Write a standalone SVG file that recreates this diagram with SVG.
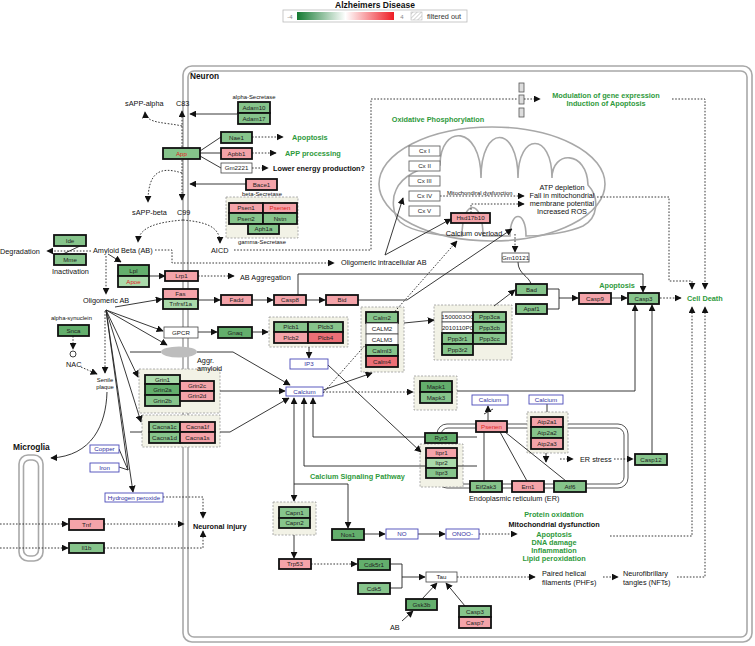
<svg xmlns="http://www.w3.org/2000/svg" width="755" height="646" viewBox="0 0 755 646">
<defs>
<marker id="ar" viewBox="0 0 10 10" refX="9" refY="5" markerWidth="7" markerHeight="7" markerUnits="userSpaceOnUse" orient="auto"><path d="M0,0 L10,5 L0,10 z" fill="#111"/></marker>
<linearGradient id="lg" x1="0" y1="0" x2="1" y2="0"><stop offset="0" stop-color="#157a32"/><stop offset="0.5" stop-color="#ffffff"/><stop offset="1" stop-color="#ee1d25"/></linearGradient>
<pattern id="hatch" width="3" height="3" patternUnits="userSpaceOnUse" patternTransform="rotate(45)"><line x1="0" y1="0" x2="0" y2="3" stroke="#aaa" stroke-width="1"/></pattern>
</defs>
<style>
text{font-family:"Liberation Sans",Arial,sans-serif}
.node rect{stroke:#111;stroke-width:1.8}
.node text{font-size:6.2px;text-anchor:middle;fill:#222}
.node.w rect{fill:#fff;stroke:#444;stroke-width:0.8}
.node.cx rect{fill:#fff;stroke:#666;stroke-width:0.9}
.node.b rect{fill:#fff;stroke:#4a4ab8;stroke-width:0.9}
.node.b text{fill:#3030a0}
.g1 rect{fill:#aadaaa}.g2 rect{fill:#86c48b}.g3 rect{fill:#63ae6c}.p1 rect{fill:#f4a3a9}.p2 rect{fill:#ec6f76}
.node text.r{fill:#e02424}
.grp{fill:#f2f2e6;stroke:#999;stroke-width:0.8;stroke-dasharray:2,1.5}
.mem{fill:none;stroke:#a8a8a8;stroke-width:1.6}
#connectors path{fill:none;stroke:#222;stroke-width:0.9}
#connectors path.d{stroke-dasharray:1.6,1.6}
#connectors path.a{marker-end:url(#ar)}
.lb{font-size:7.3px;fill:#111}
.bd{font-size:7.3px;font-weight:bold;fill:#111}
.gr{font-size:7.3px;font-weight:bold;fill:#2f9a3c}
.sm{font-size:5.9px;fill:#111}
.c{text-anchor:middle}
</style>
<rect width="755" height="646" fill="#fff"/>
<!-- legend -->
<g id="legend">
<text x="375" y="7.5" class="c" font-size="8.5" font-weight="bold" fill="#111">Alzheimers Disease</text>
<rect x="283" y="10" width="184" height="12" fill="#fff" stroke="#bbb" stroke-width="0.8"/>
<rect x="297" y="12" width="97" height="8" fill="url(#lg)"/>
<text x="290" y="19" class="c" font-size="6" fill="#888">-4</text>
<text x="402" y="19" class="c" font-size="6" fill="#888">4</text>
<rect x="411" y="12" width="11" height="8" fill="url(#hatch)" stroke="#bbb" stroke-width="0.6"/>
<text x="427" y="19" font-size="7.3" fill="#333">filtered out</text>
</g>
<!-- compartments -->
<g id="neuron">
<rect x="183" y="66" width="569" height="576" rx="9" class="mem" stroke-width="2"/>
<rect x="188" y="71" width="559" height="566" rx="6" class="mem" stroke-width="1.4"/>
<text x="190" y="79" font-size="8.3" font-weight="bold" fill="#111">Neuron</text>
</g>
<g id="mitochondrion">
<ellipse cx="492" cy="184" rx="113" ry="57" class="mem"/>
<path class="mem" d="M440,165 C440,124 481,124 481,178 C481,124 518,124 518,178 C518,132 552,132 552,178 C552,150 587,150 588,185 C600,198 598,218 583,226 C570,232 545,236 526,236 C526,210 510,210 510,236 L483,236 C483,198 462,198 462,236 C440,236 412,232 400,222 C392,214 392,198 396,190 C402,176 420,167 440,165 Z"/>
</g>
<g id="er">
<rect x="437" y="424" width="191" height="64" rx="10" fill="none" stroke="#555" stroke-width="1"/>
<rect x="441" y="428" width="183" height="56" rx="7" fill="none" stroke="#555" stroke-width="1"/>
</g>
<g id="microglia">
<rect x="19" y="455" width="24" height="106" rx="9" class="mem"/>
<rect x="23.5" y="460" width="15" height="96" rx="6" class="mem"/>
<text x="13" y="450" font-size="8.4" font-weight="bold" fill="#111">Microglia</text>
</g>
<!-- group boxes -->
<g id="groups">
<rect class="grp" x="226" y="197" width="72" height="41"/>
<rect class="grp" x="269" y="317" width="79" height="30"/>
<rect class="grp" x="361" y="307" width="43" height="65"/>
<rect class="grp" x="434" y="305" width="78" height="55"/>
<rect class="grp" x="414" y="376" width="43" height="34"/>
<rect class="grp" x="139" y="369" width="81" height="44"/>
<rect class="grp" x="142" y="415" width="78" height="32"/>
<rect class="grp" x="273" y="502" width="43" height="33"/>
<rect class="grp" x="420" y="444" width="43" height="43"/>
<rect class="grp" x="527" y="412" width="41" height="41"/>
</g>
<!-- connectors -->
<g id="connectors">
<path class="a" d="M237,114 H190"/>
<path class="a" d="M246,184 H190"/>
<path d="M200,151 L221,137"/>
<path d="M200,153 H221"/>
<path d="M200,156 L221,168"/>
<path class="d a" d="M252,137 H283"/>
<path class="d a" d="M252,153 H276"/>
<path class="d a" d="M252,168 H268"/>
<path class="d a" d="M182,147 V111"/>
<path class="d a" d="M182,160 V200"/>
<path class="d a" d="M182,126 C165,122 146,124 145,112"/>
<path class="d a" d="M182,173 C160,166 148,172 148,202"/>
<path class="d a" d="M183,220 C160,222 139,226 138,242"/>
<path class="d a" d="M183,220 C205,222 220,226 220,243"/>
<path class="d a" d="M91,251 H47"/>
<path d="M80,246 L63,254"/>
<path class="d a" d="M155,250 H172 V263 H334"/>
<path class="d" d="M234,250 H371 V99 H518"/>
<path class="d a" d="M524,99 H540"/>
<path class="d a" d="M672,99 H705 V289"/>
<path class="d a" d="M597,197 H669 V281 H692 V289"/>
<path class="d a" d="M610,536 H692 V307"/>
<path class="d a" d="M677,577 H705 V307"/>
<path class="d a" d="M660,298 H681"/>
<path class="a" d="M108,254 L121,262"/>
<path class="a" d="M149,276 H165"/>
<path class="d a" d="M198,276 H234"/>
<path class="d a" d="M106,256 V294"/>
<path class="a" d="M115,307 L162,299"/>
<path class="a" d="M106,310 L163,331"/>
<path class="a" d="M106,310 L167,345"/>
<path class="a" d="M106,310 L138,377"/>
<path class="a" d="M106,310 L141,422"/>
<path class="a" d="M106,310 L133,492"/>
<path d="M106,310 L128,470"/>
<path d="M119,449 L128,470"/>
<path d="M119,467 L128,470"/>
<path class="a" d="M107,392 C106,425 92,456 51,458"/>
<path class="d a" d="M105,311 V373"/>
<path class="d a" d="M73,336 V349"/>
<path class="d a" d="M81,367 L97,374"/>
<path class="a" d="M198,300 H220"/>
<path class="a" d="M252,300 H273"/>
<path class="a" d="M306,300 H325"/>
<path class="a" d="M358,300 H407 L512,229"/>
<path class="a" d="M298,295 V274 H643 V292"/>
<path class="a" d="M198,332 H217"/>
<path class="a" d="M252,332 H268"/>
<path class="a" d="M309,347 V358"/>
<path class="a" d="M328,365 L421,452"/>
<path d="M130,352 H161"/>
<path class="a" d="M197,352 H233 L290,385"/>
<path class="a" d="M220,391 H285"/>
<path d="M130,432 H142"/>
<path class="a" d="M220,432 H230 L289,398"/>
<path class="a" d="M323,390 L372,373"/>
<path class="d a" d="M323,393 L457,241"/>
<path class="d a" d="M323,392 H413"/>
<path class="a" d="M404,323 L434,320"/>
<path class="a" d="M494,306 L515,290"/>
<path class="a" d="M457,391 H635 V305"/>
<path class="a" d="M652,454 V305"/>
<path d="M547,289 H559 V309 H547"/>
<path class="a" d="M559,298 H578"/>
<path class="a" d="M611,298 H627"/>
<path d="M518,262 C518,274 529,276 531,284"/>
<path class="d a" d="M515,234 V252"/>
<path class="a" d="M385,255 L403,198"/>
<path class="a" d="M385,255 L451,219"/>
<path class="d a" d="M440,196 H524"/>
<path class="d a" d="M471,213 V204 H524"/>
<path class="a" d="M488,421 V406"/>
<path d="M484,414 L493,409"/>
<path d="M547,404 V412"/>
<path class="a" d="M546,453 V462"/>
<path class="d a" d="M560,459 H573"/>
<path class="d a" d="M614,459 H633"/>
<path d="M500,432 L527,481"/>
<path d="M505,432 L566,481"/>
<path d="M484,432 V481"/>
<path class="a" d="M477,437 H313 V398"/>
<path class="a" d="M477,466 H304 V398"/>
<path class="a" d="M294,484 V398"/>
<path class="a" d="M294,484 V501"/>
<path class="a" d="M294,484 H348 V528"/>
<path class="a" d="M294,535 V558"/>
<path class="d a" d="M311,564 H357"/>
<path d="M390,564 H402 V588 H390"/>
<path class="a" d="M402,577 H425"/>
<path class="a" d="M422,599 L437,583"/>
<path class="a" d="M402,621 L413,611"/>
<path class="a" d="M465,606 L446,583"/>
<path class="d a" d="M457,577 H535"/>
<path class="d a" d="M603,577 H618"/>
<path class="a" d="M364,534 H385"/>
<path class="a" d="M418,534 H445"/>
<path class="d a" d="M479,534 H517"/>
<path class="d a" d="M163,497 H203 V518"/>
<path class="d a" d="M0,524 H68"/>
<path class="d a" d="M104,524 H184"/>
<path class="d a" d="M0,548 H68"/>
<path class="d a" d="M104,548 H203 V531"/>
</g>
<!-- special shapes -->
<g id="AggrAmyloid"><ellipse cx="179" cy="352" rx="18" ry="5.5" fill="#bdbdbd"/><text x="197" y="363" class="lb">Aggr.</text><text x="197" y="371" class="lb">amyloid</text></g>
<g id="bars" fill="#ddd" stroke="#555" stroke-width="0.8"><rect x="519" y="83" width="5" height="9"/><rect x="519" y="95" width="5" height="9"/><rect x="519" y="108" width="5" height="9"/></g>
<circle id="NACc" cx="73" cy="354" r="3" fill="#fff" stroke="#111" stroke-width="0.8"/>
<!-- nodes -->
<g id="Adam10" class="node g2"><rect x="238" y="102" width="32" height="11"/><text x="254" y="109.6">Adam10</text></g>
<g id="Adam17" class="node g2"><rect x="238" y="113" width="32" height="11"/><text x="254" y="120.6">Adam17</text></g>
<g id="Nae1" class="node g2"><rect x="221" y="132" width="31" height="11"/><text x="236.5" y="139.6">Nae1</text></g>
<g id="Apbb1" class="node p1"><rect x="221" y="148" width="31" height="11"/><text x="236.5" y="155.6">Apbb1</text></g>
<g id="Gm2221" class="node w"><rect x="221" y="163" width="31" height="10"/><text x="236.5" y="170.1">Gm2221</text></g>
<g id="App" class="node g2"><rect x="163" y="148" width="37" height="11"/><text class="r" x="181.5" y="155.6">App</text></g>
<g id="Bace1" class="node p1"><rect x="246" y="179" width="31" height="11"/><text x="261.5" y="186.6">Bace1</text></g>
<g id="Psen1" class="node p1"><rect x="229" y="203" width="34" height="10"/><text x="246" y="210.1">Psen1</text></g>
<g id="Psenen" class="node p1"><rect x="263" y="203" width="34" height="10"/><text class="r" x="280" y="210.1">Psenen</text></g>
<g id="Psen2" class="node g2"><rect x="229" y="213" width="34" height="11"/><text x="246" y="220.6">Psen2</text></g>
<g id="Nstn" class="node g2"><rect x="263" y="213" width="34" height="11"/><text x="280" y="220.6">Nstn</text></g>
<g id="Aph1a" class="node g2"><rect x="248" y="224" width="31" height="10"/><text x="263.5" y="231.1">Aph1a</text></g>
<g id="Ide" class="node g2"><rect x="54" y="235" width="32" height="11"/><text x="70" y="242.6">Ide</text></g>
<g id="Mme" class="node g2"><rect x="54" y="254" width="32" height="11"/><text x="70" y="261.6">Mme</text></g>
<g id="Lpl" class="node g3"><rect x="118" y="265" width="31" height="11"/><text x="133.5" y="272.6">Lpl</text></g>
<g id="Apoe" class="node g1"><rect x="118" y="276" width="31" height="11"/><text class="r" x="133.5" y="283.6">Apoe</text></g>
<g id="Lrp1" class="node p1"><rect x="165" y="271" width="33" height="10"/><text x="181.5" y="278.1">Lrp1</text></g>
<g id="Fas" class="node p1"><rect x="163" y="289" width="35" height="10"/><text x="180.5" y="296.1">Fas</text></g>
<g id="Tnfrsf1a" class="node g1"><rect x="163" y="299" width="35" height="10"/><text x="180.5" y="306.1">Tnfrsf1a</text></g>
<g id="Fadd" class="node p1"><rect x="221" y="295" width="31" height="10"/><text x="236.5" y="302.1">Fadd</text></g>
<g id="Casp8" class="node p1"><rect x="274" y="295" width="32" height="10"/><text x="290" y="302.1">Casp8</text></g>
<g id="Bid" class="node p1"><rect x="326" y="295" width="32" height="10"/><text x="342" y="302.1">Bid</text></g>
<g id="Snca" class="node g3"><rect x="58" y="325" width="31" height="11"/><text x="73.5" y="332.6">Snca</text></g>
<g id="GPCR" class="node w"><rect x="164" y="327" width="34" height="11"/><text x="181" y="334.6">GPCR</text></g>
<g id="Gnaq" class="node g3"><rect x="218" y="327" width="34" height="11"/><text x="235" y="334.6">Gnaq</text></g>
<g id="Plcb1" class="node g2"><rect x="274" y="322" width="34" height="10"/><text x="291" y="329.1">Plcb1</text></g>
<g id="Plcb3" class="node g2"><rect x="308" y="322" width="35" height="10"/><text x="325.5" y="329.1">Plcb3</text></g>
<g id="Plcb2" class="node p1"><rect x="274" y="332" width="34" height="11"/><text x="291" y="339.6">Plcb2</text></g>
<g id="Plcb4" class="node p2"><rect x="308" y="332" width="35" height="11"/><text x="325.5" y="339.6">Plcb4</text></g>
<g id="IP3" class="node b"><rect x="290" y="359" width="38" height="10"/><text x="309" y="366.1">IP3</text></g>
<g id="Calcium" class="node b"><rect x="286" y="387" width="37" height="9"/><text x="304.5" y="393.6">Calcium</text></g>
<g id="Calm2" class="node g2"><rect x="366" y="312" width="32" height="11"/><text x="382" y="319.6">Calm2</text></g>
<g id="CALM2" class="node w"><rect x="366" y="323" width="32" height="11"/><text x="382" y="330.6">CALM2</text></g>
<g id="CALM3" class="node w"><rect x="366" y="334" width="32" height="11"/><text x="382" y="341.6">CALM3</text></g>
<g id="Calml3" class="node g2"><rect x="366" y="345" width="32" height="11"/><text x="382" y="352.6">Calml3</text></g>
<g id="Calm4" class="node p2"><rect x="366" y="356" width="32" height="11"/><text x="382" y="363.6">Calm4</text></g>
<g id="n1500003O01Rik" class="node w"><rect x="442" y="312" width="31" height="10"/><text x="457.5" y="319.1">1500003O0</text></g>
<g id="n2010110P09Rik" class="node w"><rect x="442" y="322" width="31" height="11"/><text x="457.5" y="329.6">2010110P0</text></g>
<g id="Ppp3r1" class="node g2"><rect x="442" y="333" width="31" height="11"/><text x="457.5" y="340.6">Ppp3r1</text></g>
<g id="Ppp3r2" class="node g2"><rect x="442" y="344" width="31" height="11"/><text x="457.5" y="351.6">Ppp3r2</text></g>
<g id="Ppp3ca" class="node g2"><rect x="473" y="312" width="33" height="10"/><text x="489.5" y="319.1">Ppp3ca</text></g>
<g id="Ppp3cb" class="node g2"><rect x="473" y="322" width="33" height="11"/><text x="489.5" y="329.6">Ppp3cb</text></g>
<g id="Ppp3cc" class="node g2"><rect x="473" y="333" width="33" height="11"/><text x="489.5" y="340.6">Ppp3cc</text></g>
<g id="Bad" class="node g2"><rect x="516" y="284" width="31" height="11"/><text x="531.5" y="291.6">Bad</text></g>
<g id="Apaf1" class="node g2"><rect x="516" y="304" width="31" height="10"/><text x="531.5" y="311.1">Apaf1</text></g>
<g id="Casp9" class="node p1"><rect x="579" y="293" width="32" height="11"/><text x="595" y="300.6">Casp9</text></g>
<g id="Casp3" class="node g2"><rect x="628" y="293" width="31" height="11"/><text x="643.5" y="300.6">Casp3</text></g>
<g id="Gm10121" class="node w"><rect x="502" y="253" width="27" height="9"/><text x="515.5" y="259.6">Gm10121</text></g>
<g id="Hsd17b10" class="node p1"><rect x="451" y="213" width="39" height="10"/><text x="470.5" y="220.1">Hsd17b10</text></g>
<g id="CxI" class="node cx"><rect x="409" y="146" width="31" height="10"/><text x="424.5" y="153.1">Cx I</text></g>
<g id="CxII" class="node cx"><rect x="409" y="161" width="31" height="10"/><text x="424.5" y="168.1">Cx II</text></g>
<g id="CxIII" class="node cx"><rect x="409" y="176" width="31" height="10"/><text x="424.5" y="183.1">Cx III</text></g>
<g id="CxIV" class="node cx"><rect x="409" y="191" width="31" height="10"/><text x="424.5" y="198.1">Cx IV</text></g>
<g id="CxV" class="node cx"><rect x="409" y="206" width="31" height="10"/><text x="424.5" y="213.1">Cx V</text></g>
<g id="Mapk1" class="node g3"><rect x="420" y="381" width="32" height="11"/><text x="436" y="388.6">Mapk1</text></g>
<g id="Mapk3" class="node g2"><rect x="420" y="392" width="32" height="11"/><text x="436" y="399.6">Mapk3</text></g>
<g id="Grin1" class="node g1"><rect x="145" y="375" width="35" height="9"/><text x="162.5" y="381.6">Grin1</text></g>
<g id="Grin2a" class="node g3"><rect x="145" y="384" width="35" height="11"/><text x="162.5" y="391.6">Grin2a</text></g>
<g id="Grin2b" class="node g2"><rect x="145" y="395" width="35" height="11"/><text x="162.5" y="402.6">Grin2b</text></g>
<g id="Grin2c" class="node p1"><rect x="180" y="381" width="34" height="10"/><text x="197" y="388.1">Grin2c</text></g>
<g id="Grin2d" class="node p1"><rect x="180" y="391" width="34" height="10"/><text x="197" y="398.1">Grin2d</text></g>
<g id="Cacna1c" class="node g2"><rect x="149" y="422" width="31" height="10"/><text x="164.5" y="429.1">Cacna1c</text></g>
<g id="Cacna1d" class="node g2"><rect x="149" y="432" width="31" height="11"/><text x="164.5" y="439.6">Cacna1d</text></g>
<g id="Cacna1f" class="node p1"><rect x="180" y="422" width="35" height="10"/><text x="197.5" y="429.1">Cacna1f</text></g>
<g id="Cacna1s" class="node p1"><rect x="180" y="432" width="35" height="11"/><text x="197.5" y="439.6">Cacna1s</text></g>
<g id="CalciumER1" class="node b"><rect x="472" y="395" width="36" height="10"/><text x="490" y="402.1">Calcium</text></g>
<g id="CalciumER2" class="node b"><rect x="529" y="395" width="34" height="9"/><text x="546" y="401.6">Calcium</text></g>
<g id="PsenenER" class="node p1"><rect x="476" y="421" width="31" height="11"/><text class="r" x="491.5" y="428.6">Psenen</text></g>
<g id="Atp2a1" class="node p1"><rect x="531" y="417" width="32" height="10"/><text x="547" y="424.1">Atp2a1</text></g>
<g id="Atp2a2" class="node g2"><rect x="531" y="427" width="32" height="11"/><text x="547" y="434.6">Atp2a2</text></g>
<g id="Atp2a3" class="node p1"><rect x="531" y="438" width="32" height="11"/><text x="547" y="445.6">Atp2a3</text></g>
<g id="Ryr3" class="node g3"><rect x="425" y="433" width="32" height="10"/><text x="441" y="440.1">Ryr3</text></g>
<g id="Itpr1" class="node p1"><rect x="426" y="448" width="31" height="10"/><text x="441.5" y="455.1">Itpr1</text></g>
<g id="Itpr2" class="node g1"><rect x="426" y="458" width="31" height="10"/><text x="441.5" y="465.1">Itpr2</text></g>
<g id="Itpr3" class="node g2"><rect x="426" y="468" width="31" height="10"/><text x="441.5" y="475.1">Itpr3</text></g>
<g id="Eif2ak3" class="node g2"><rect x="470" y="481" width="32" height="11"/><text x="486" y="488.6">Eif2ak3</text></g>
<g id="Ern1" class="node p1"><rect x="512" y="481" width="32" height="11"/><text x="528" y="488.6">Ern1</text></g>
<g id="Atf6" class="node g2"><rect x="554" y="481" width="32" height="11"/><text x="570" y="488.6">Atf6</text></g>
<g id="Casp12" class="node g2"><rect x="635" y="454" width="32" height="11"/><text x="651" y="461.6">Casp12</text></g>
<g id="Copper" class="node b"><rect x="90" y="445" width="29" height="8"/><text x="104.5" y="451.1">Copper</text></g>
<g id="Iron" class="node b"><rect x="90" y="463" width="29" height="9"/><text x="104.5" y="469.6">Iron</text></g>
<g id="H2O2" class="node b"><rect x="105" y="493" width="58" height="9"/><text x="134" y="499.6">Hydrogen peroxide</text></g>
<g id="Tnf" class="node p1"><rect x="69" y="519" width="35" height="11"/><text x="86.5" y="526.6">Tnf</text></g>
<g id="Il1b" class="node g2"><rect x="69" y="543" width="35" height="10"/><text x="86.5" y="550.1">Il1b</text></g>
<g id="Capn1" class="node g2"><rect x="279" y="507" width="31" height="11"/><text x="294.5" y="514.6">Capn1</text></g>
<g id="Capn2" class="node g2"><rect x="279" y="518" width="31" height="10"/><text x="294.5" y="525.1">Capn2</text></g>
<g id="Trp53" class="node p1"><rect x="279" y="559" width="32" height="10"/><text x="295" y="566.1">Trp53</text></g>
<g id="Nos1" class="node g3"><rect x="332" y="529" width="32" height="11"/><text x="348" y="536.6">Nos1</text></g>
<g id="NO" class="node b"><rect x="386" y="529" width="32" height="10"/><text x="402" y="536.1">NO</text></g>
<g id="ONOO" class="node b"><rect x="446" y="529" width="33" height="10"/><text x="462.5" y="536.1">ONOO-</text></g>
<g id="Cdk5r1" class="node g3"><rect x="358" y="559" width="32" height="11"/><text x="374" y="566.6">Cdk5r1</text></g>
<g id="Cdk5" class="node g2"><rect x="358" y="583" width="32" height="11"/><text x="374" y="590.6">Cdk5</text></g>
<g id="Tau" class="node w"><rect x="426" y="572" width="31" height="10"/><text x="441.5" y="579.1">Tau</text></g>
<g id="Gsk3b" class="node g3"><rect x="406" y="599" width="31" height="11"/><text x="421.5" y="606.6">Gsk3b</text></g>
<g id="Casp3b" class="node g2"><rect x="459" y="606" width="32" height="11"/><text x="475" y="613.6">Casp3</text></g>
<g id="Casp7" class="node p1"><rect x="459" y="617" width="32" height="11"/><text x="475" y="624.6">Casp7</text></g>
<!-- labels -->
<g id="labels">
<text x="254" y="99" class="sm c">alpha-Secretase</text>
<text x="262" y="196" class="sm c">beta-Secretase</text>
<text x="262" y="244" class="sm c">gamma-Secretase</text>
<text x="125" y="106" class="lb">sAPP-alpha</text>
<text x="176" y="106" class="lb">C83</text>
<text x="132" y="215" class="lb">sAPP-beta</text>
<text x="177" y="215" class="lb">C99</text>
<text x="93" y="253" class="lb">Amyloid Beta (AB)</text>
<text x="211" y="253" class="lb">AICD</text>
<text x="0" y="254" class="lb">Degradation</text>
<text x="52" y="274" class="lb">Inactivation</text>
<text x="240" y="280" class="lb">AB Aggregation</text>
<text x="83" y="303" class="lb">Oligomeric AB</text>
<text x="51" y="320" class="sm">alpha-synuclein</text>
<text x="66" y="367" class="lb">NAC</text>
<text x="105" y="382" class="sm c">Senile</text>
<text x="105" y="389" class="sm c">plaque</text>
<text x="341" y="265" class="lb">Oligomeric intracellular AB</text>
<text x="292" y="140" class="gr">Apoptosis</text>
<text x="285" y="156" class="gr">APP processing</text>
<text x="273" y="171" class="bd">Lower energy production?</text>
<text x="438" y="122" class="gr c">Oxidative Phosphorylation</text>
<text x="606" y="98" class="gr c">Modulation of gene expression</text>
<text x="606" y="106" class="gr c">Induction of Apoptosis</text>
<text x="447" y="195" font-size="5.8" fill="#111">Mitochondiral dysfunction</text>
<text x="562" y="190" class="lb c">ATP depletion</text>
<text x="562" y="198" class="lb c">Fall in mitochondrial</text>
<text x="562" y="206" class="lb c">membrane potential</text>
<text x="562" y="214" class="lb c">Increased ROS</text>
<text x="474" y="236" class="lb c">Calcium overload</text>
<text x="617" y="288" class="gr c">Apoptosis</text>
<text x="687" y="301" class="gr">Cell Death</text>
<text x="193" y="529" class="bd">Neuronal injury</text>
<text x="310" y="479" class="gr">Calcium Signaling Pathway</text>
<text x="469" y="501" class="lb">Endoplasmic reticulum (ER)</text>
<text x="580" y="462" class="lb">ER stress</text>
<text x="554" y="517" class="gr c">Protein oxidation</text>
<text x="554" y="527" class="bd c">Mitochondrial dysfunction</text>
<text x="554" y="537" class="gr c">Apoptosis</text>
<text x="554" y="545" class="gr c">DNA damage</text>
<text x="554" y="553" class="gr c">Inflammation</text>
<text x="554" y="561" class="gr c">Lipid peroxidation</text>
<text x="542" y="576" class="lb">Paired helical</text>
<text x="542" y="585" class="lb">filaments (PHFs)</text>
<text x="623" y="576" class="lb">Neurofibrillary</text>
<text x="623" y="585" class="lb">tangles (NFTs)</text>
<text x="390" y="630" class="lb">AB</text>
</g>
</svg>
